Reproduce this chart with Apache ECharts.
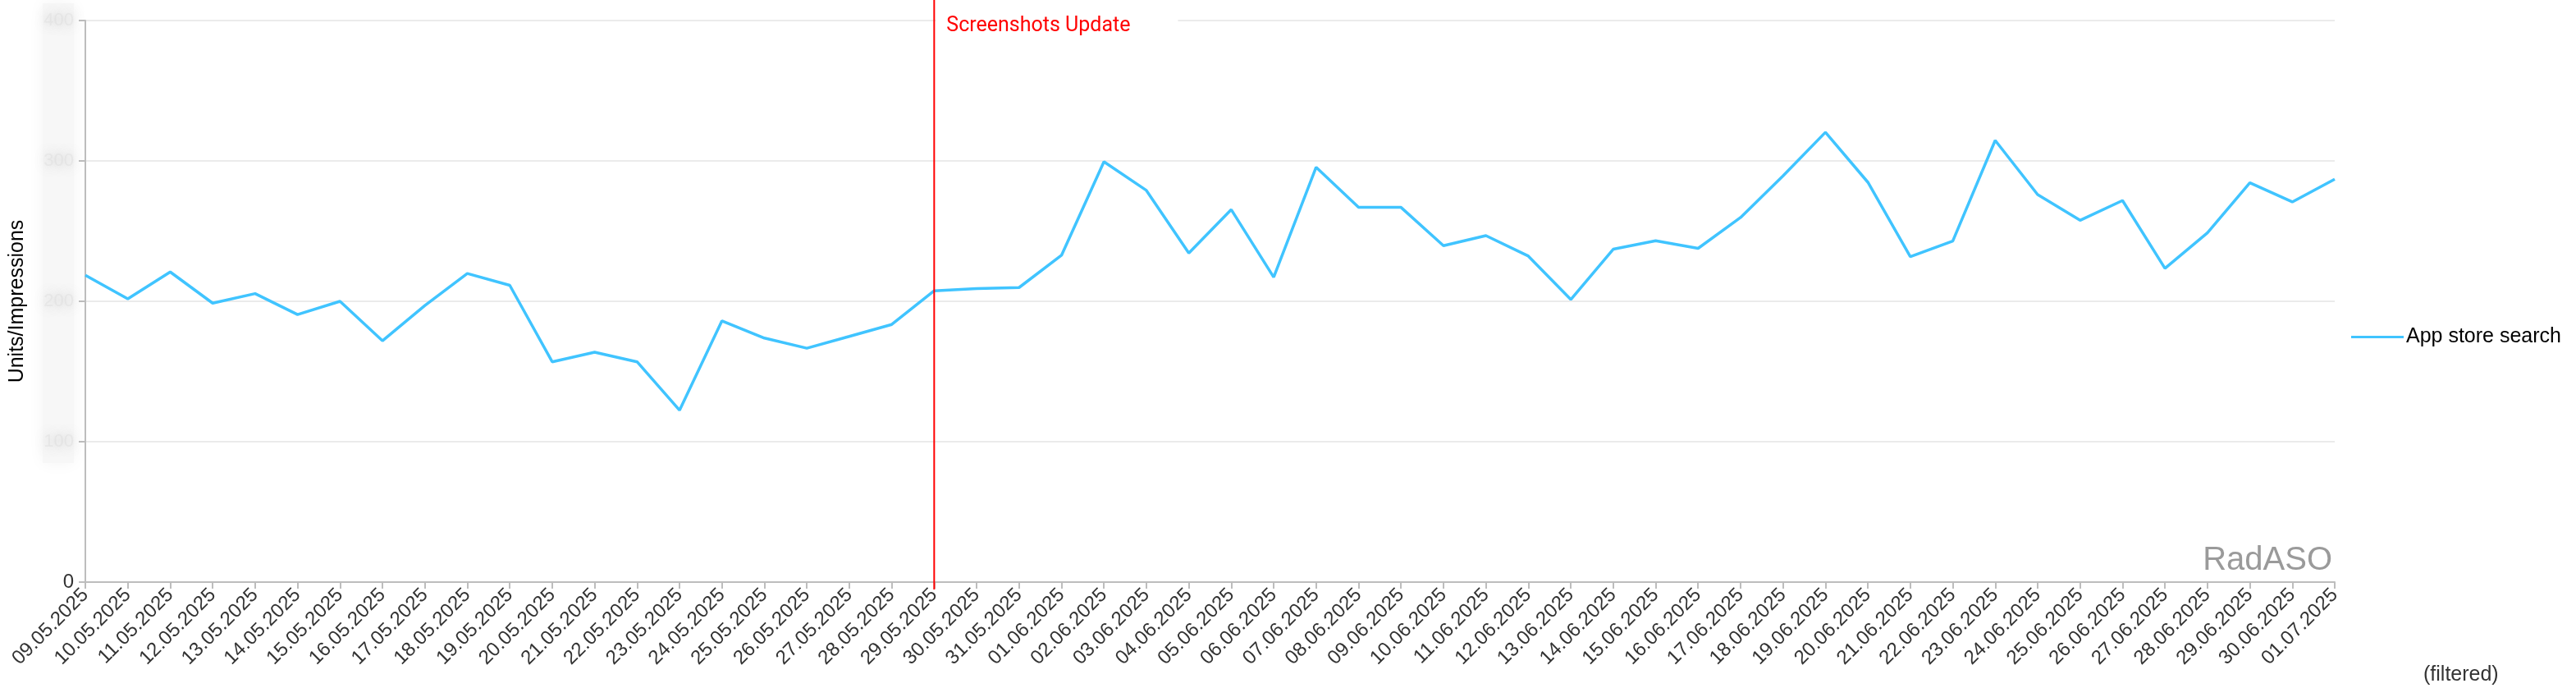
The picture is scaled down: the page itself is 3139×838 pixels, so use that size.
<!DOCTYPE html>
<html>
<head>
<meta charset="utf-8">
<script src="https://cdn.jsdelivr.net/npm/echarts@6/dist/echarts.min.js"></script>
<style>
html,body{margin:0;padding:0;background:#fff;}
#chart{width:3139px;height:838px;}
</style>
</head>
<body>
<div id="chart"></div>
<script>
const categories = ['09.05.2025','10.05.2025','11.05.2025','12.05.2025','13.05.2025','14.05.2025','15.05.2025','16.05.2025','17.05.2025','18.05.2025','19.05.2025','20.05.2025','21.05.2025','22.05.2025','23.05.2025','24.05.2025','25.05.2025','26.05.2025','27.05.2025','28.05.2025','29.05.2025','30.05.2025','31.05.2025','01.06.2025','02.06.2025','03.06.2025','04.06.2025','05.06.2025','06.06.2025','07.06.2025','08.06.2025','09.06.2025','10.06.2025','11.06.2025','12.06.2025','13.06.2025','14.06.2025','15.06.2025','16.06.2025','17.06.2025','18.06.2025','19.06.2025','20.06.2025','21.06.2025','22.06.2025','23.06.2025','24.06.2025','25.06.2025','26.06.2025','27.06.2025','28.06.2025','29.06.2025','30.06.2025','01.07.2025'];
const appStoreSearch = [218.6,201.7,220.9,198.7,205.5,190.6,200,171.9,197,219.8,211.4,156.9,163.7,156.9,122.4,186.1,173.8,166.6,175,183.5,207.5,209,209.8,232.8,299.4,279,234.4,265.3,217.2,295.5,266.9,266.9,239.6,246.8,232.2,201.3,237.1,243.1,237.7,259.7,289.3,320.4,284.8,231.8,242.9,314.6,276,257.7,271.8,223.5,248.8,284.4,270.8,287];
const yTicks = [0,100,200,300,400];
const seriesName = 'App store search';
const eventDate = '29.05.2025';
const eventLabel = 'Screenshots Update';
const yAxisName = 'Units/Impressions';
const watermark = 'RadASO';
const footnote = '(filtered)';

const chart = echarts.init(document.getElementById('chart'), null, {renderer:'canvas'});
const FONT = 'Arial, "Liberation Sans", sans-serif';
const option = {
  animation: false,
  backgroundColor: '#fff',
  grid: {left:104, right:294, top:25, bottom:129, containLabel:false},
  legend: {
    data:[seriesName], orient:'vertical', left:2860, top:393,
    icon:'rect', itemWidth:64, itemHeight:3, itemGap:4,
    textStyle:{fontSize:25, color:'#000', fontFamily:FONT, padding:[0,0,0,-2]}
  },
  xAxis: {
    type:'category', data:categories, boundaryGap:false,
    axisLine:{lineStyle:{color:'#bdbdbd', width:2}},
    axisTick:{show:true, length:8, lineStyle:{color:'#bdbdbd', width:2}},
    axisLabel:{rotate:45, fontSize:24, color:'#333', fontFamily:FONT, margin:12, interval:0}
  },
  yAxis: {
    type:'value', min:yTicks[0], max:yTicks[yTicks.length-1], interval:100,
    name:yAxisName, nameLocation:'middle', nameRotate:90, nameGap:70,
    nameTextStyle:{fontSize:25, color:'#000', fontFamily:FONT},
    axisLine:{show:true, lineStyle:{color:'#bdbdbd', width:2}},
    axisTick:{show:true, length:8, lineStyle:{color:'#bdbdbd', width:2}},
    splitLine:{lineStyle:{color:'#ebebeb', width:2}},
    axisLabel:{
      fontSize:24, color:'#333', fontFamily:FONT, margin:14,
      formatter: v => v === 0 ? '0' : '{b|' + v + '}',
      rich:{b:{fontSize:22, color:'rgba(215,215,215,0.35)', textShadowBlur:14, textShadowColor:'rgba(120,120,120,1)', fontFamily:FONT}}
    }
  },
  series: [{
    name:seriesName, type:'line', data:appStoreSearch,
    symbol:'none', showSymbol:false,
    lineStyle:{color:'#40c4ff', width:3.5},
    itemStyle:{color:'#40c4ff'}
  }]
};
chart.setOption(option);

const px = chart.convertToPixel({xAxisIndex:0}, eventDate);
const yTop = chart.convertToPixel({yAxisIndex:0}, yTicks[yTicks.length-1]);
const yBottom = chart.convertToPixel({yAxisIndex:0}, 0);
chart.setOption({
  graphic: [
    {type:'rect', z:-10, shape:{x:52, y:4, width:38, height:560}, style:{fill:'#f7f7f7', shadowBlur:20, shadowColor:'#f4f4f4'}, silent:true},
    {type:'line', z:50, shape:{x1:px, y1:0, x2:px, y2:yBottom+9}, style:{stroke:'#ff0000', lineWidth:2}},
    {type:'text', z:50, x:px+2, y:yTop+7, style:{
      text:eventLabel, fill:'#ff0000', font:'25px Roboto, Inter, sans-serif',
      backgroundColor:'#fff', padding:[0,58,0,13], verticalAlign:'middle'}},
    {type:'text', z:50, x:2842, y:703, style:{text:watermark, fill:'#9a9a9a', font:'40px ' + FONT, align:'right', verticalAlign:'bottom'}},
    {type:'text', z:50, x:2953, y:822, style:{text:footnote, fill:'#333', font:'25px ' + FONT, verticalAlign:'middle'}}
  ]
});
</script>
</body>
</html>
